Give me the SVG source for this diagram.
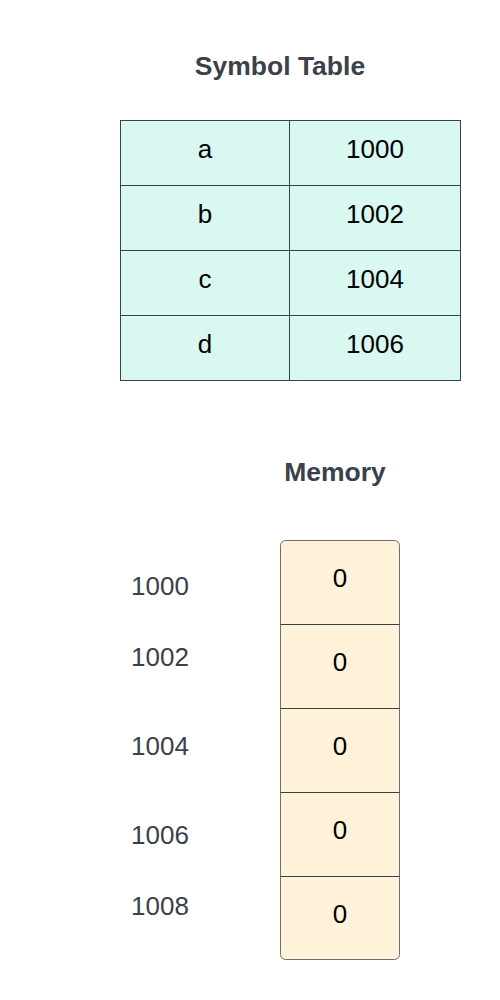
<svg xmlns="http://www.w3.org/2000/svg" width="500" height="1000" viewBox="0 0 500 1000">
<style>
.title{font-family:"Liberation Sans",Arial,sans-serif;font-weight:bold;font-size:26.5px;fill:#3a414a;text-anchor:middle}
.cell{font-family:"Liberation Sans",Arial,sans-serif;font-size:26px;fill:#000;text-anchor:middle}
.addr{font-family:"Liberation Sans",Arial,sans-serif;font-size:26px;fill:#3a414a;text-anchor:middle}
.tbl{fill:#d9f8f2;stroke:#3a414a;stroke-width:1}
.mem{fill:#fff2d9;stroke:#6e6e6e;stroke-width:1}
.div{stroke:#3a414a;stroke-width:1}
</style>
<rect width="500" height="1000" fill="#fff"/>
<g id="symbol-table-title"><text class="title" x="280" y="75">Symbol Table</text></g>
<g id="symbol-table">
<rect class="tbl" x="120.5" y="120.5" width="340" height="260"/>
<line class="div" x1="289.5" y1="120.5" x2="289.5" y2="380.5"/>
<line class="div" x1="120.5" y1="185.5" x2="460.5" y2="185.5"/>
<line class="div" x1="120.5" y1="250.5" x2="460.5" y2="250.5"/>
<line class="div" x1="120.5" y1="315.5" x2="460.5" y2="315.5"/>
<text class="cell" x="205" y="158">a</text><text class="cell" x="375" y="158">1000</text>
<text class="cell" x="205" y="223">b</text><text class="cell" x="375" y="223">1002</text>
<text class="cell" x="205" y="288">c</text><text class="cell" x="375" y="288">1004</text>
<text class="cell" x="205" y="353">d</text><text class="cell" x="375" y="353">1006</text>
</g>
<g id="memory-title"><text class="title" x="335" y="481">Memory</text></g>
<g id="memory">
<rect class="mem" x="280.5" y="540.5" width="119" height="419" rx="5"/>
<line class="div" x1="280.5" y1="624.5" x2="399.5" y2="624.5"/>
<line class="div" x1="280.5" y1="708.5" x2="399.5" y2="708.5"/>
<line class="div" x1="280.5" y1="792.5" x2="399.5" y2="792.5"/>
<line class="div" x1="280.5" y1="876.5" x2="399.5" y2="876.5"/>
<text class="cell" x="340" y="587">0</text>
<text class="cell" x="340" y="671">0</text>
<text class="cell" x="340" y="755">0</text>
<text class="cell" x="340" y="839">0</text>
<text class="cell" x="340" y="923">0</text>
</g>
<g id="addresses">
<text class="addr" x="160" y="595">1000</text>
<text class="addr" x="160" y="666">1002</text>
<text class="addr" x="160" y="755">1004</text>
<text class="addr" x="160" y="844">1006</text>
<text class="addr" x="160" y="915">1008</text>
</g>
</svg>
